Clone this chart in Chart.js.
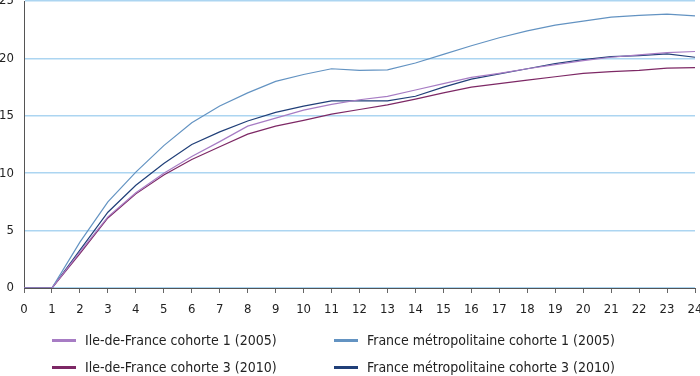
<!DOCTYPE html>
<html>
<head>
<meta charset="utf-8">
<script src="https://cdn.jsdelivr.net/npm/chart.js@4"></script>
<style>
  html, body { margin: 0; padding: 0; background: #fff; }
  #wrap { position: relative; width: 700px; height: 376px; }
  #legend { position: absolute; left: 0; top: 0; width: 700px; height: 376px; pointer-events: none;
    font-family: 'Liberation Sans Narrow', 'DejaVu Sans Condensed', sans-serif; font-size: 14px; color: #222; }
  .item { position: absolute; display: flex; align-items: center; height: 16px; white-space: nowrap; }
  .swatch { width: 24px; height: 3px; margin-right: 9px; }
</style>
</head>
<body>
<div id="wrap">
  <canvas id="cohortChart" width="700" height="376"></canvas>
  <div id="legend"></div>
</div>
<script>
const months = [0,1,2,3,4,5,6,7,8,9,10,11,12,13,14,15,16,17,18,19,20,21,22,23,24];
const yTicks = [0, 5, 10, 15, 20, 25];

const idfCohorte1 = [0,0,3.15,6.2,8.3,10.0,11.45,12.75,14.1,14.8,15.5,16.0,16.4,16.7,17.25,17.8,18.35,18.7,19.1,19.45,19.8,20.1,20.3,20.5,20.6];
const idfCohorte3 = [0,0,3.0,6.1,8.2,9.85,11.2,12.3,13.4,14.1,14.6,15.15,15.55,15.95,16.45,17.0,17.5,17.8,18.1,18.4,18.7,18.85,18.95,19.15,19.2];
const fmCohorte1 = [0,0,4.0,7.5,10.1,12.4,14.4,15.85,17.0,18.0,18.6,19.1,18.95,19.0,19.6,20.35,21.1,21.8,22.4,22.9,23.25,23.6,23.75,23.85,23.7];
const fmCohorte3 = [0,0,3.3,6.6,8.95,10.85,12.5,13.6,14.55,15.3,15.85,16.3,16.3,16.3,16.7,17.5,18.2,18.65,19.1,19.55,19.9,20.15,20.25,20.4,20.1];

const FONT = "'Liberation Sans Narrow', 'DejaVu Sans Condensed', sans-serif";

const series = [
  { label: 'Ile-de-France cohorte 1 (2005)', values: idfCohorte1, color: '#a77cc4' },
  { label: 'France métropolitaine cohorte 1 (2005)', values: fmCohorte1, color: '#6393c2' },
  { label: 'Ile-de-France cohorte 3 (2010)', values: idfCohorte3, color: '#7d2865' },
  { label: 'France métropolitaine cohorte 3 (2010)', values: fmCohorte3, color: '#203f78' },
];

const toPoints = (vals) => vals.map((v, i) => ({ x: months[i], y: v }));

const ctx = document.getElementById('cohortChart').getContext('2d');
new Chart(ctx, {
  type: 'line',
  data: {
    datasets: series.map(s => ({
      label: s.label,
      data: toPoints(s.values),
      borderColor: s.color,
      backgroundColor: s.color,
      borderWidth: 1.2,
      pointRadius: 0,
      tension: 0,
    })),
  },
  options: {
    responsive: false,
    animation: false,
    layout: { padding: { top: 1, right: 5, bottom: 52, left: 0 } },
    plugins: { legend: { display: false }, tooltip: { enabled: false } },
    scales: {
      x: {
        type: 'linear',
        min: 0,
        max: 24,
        afterFit: (scale) => { scale.height = 36; scale.paddingLeft = 0; scale.paddingRight = 0; },
        afterBuildTicks: (scale) => { scale.ticks = months.map(v => ({ value: v })); },
        grid: { drawOnChartArea: false, drawTicks: true, tickLength: 5, color: '#666' },
        border: { color: '#555', width: 1 },
        ticks: { color: '#222', padding: 9, maxRotation: 0, autoSkip: false, font: { family: FONT, size: 13 } },
      },
      y: {
        min: 0,
        max: 25,
        afterFit: (scale) => { scale.width = 24; scale.paddingTop = 0; scale.paddingBottom = 0; },
        afterBuildTicks: (scale) => { scale.ticks = yTicks.map(v => ({ value: v })); },
        grid: { drawTicks: false, color: '#acd5f1', lineWidth: 1.5 },
        border: { color: '#555', width: 1 },
        ticks: { color: '#222', padding: 10, font: { family: FONT, size: 13 } },
      },
    },
  },
});

// legend, two columns
const legendPos = [
  { left: 52, top: 332 }, { left: 334, top: 332 },
  { left: 52, top: 359 }, { left: 334, top: 359 },
];
const legend = document.getElementById('legend');
series.forEach((s, i) => {
  const item = document.createElement('div');
  item.className = 'item';
  item.style.left = legendPos[i].left + 'px';
  item.style.top = legendPos[i].top + 'px';
  const sw = document.createElement('span');
  sw.className = 'swatch';
  sw.style.background = s.color;
  const txt = document.createElement('span');
  txt.textContent = s.label;
  item.appendChild(sw);
  item.appendChild(txt);
  legend.appendChild(item);
});
</script>
</body>
</html>
